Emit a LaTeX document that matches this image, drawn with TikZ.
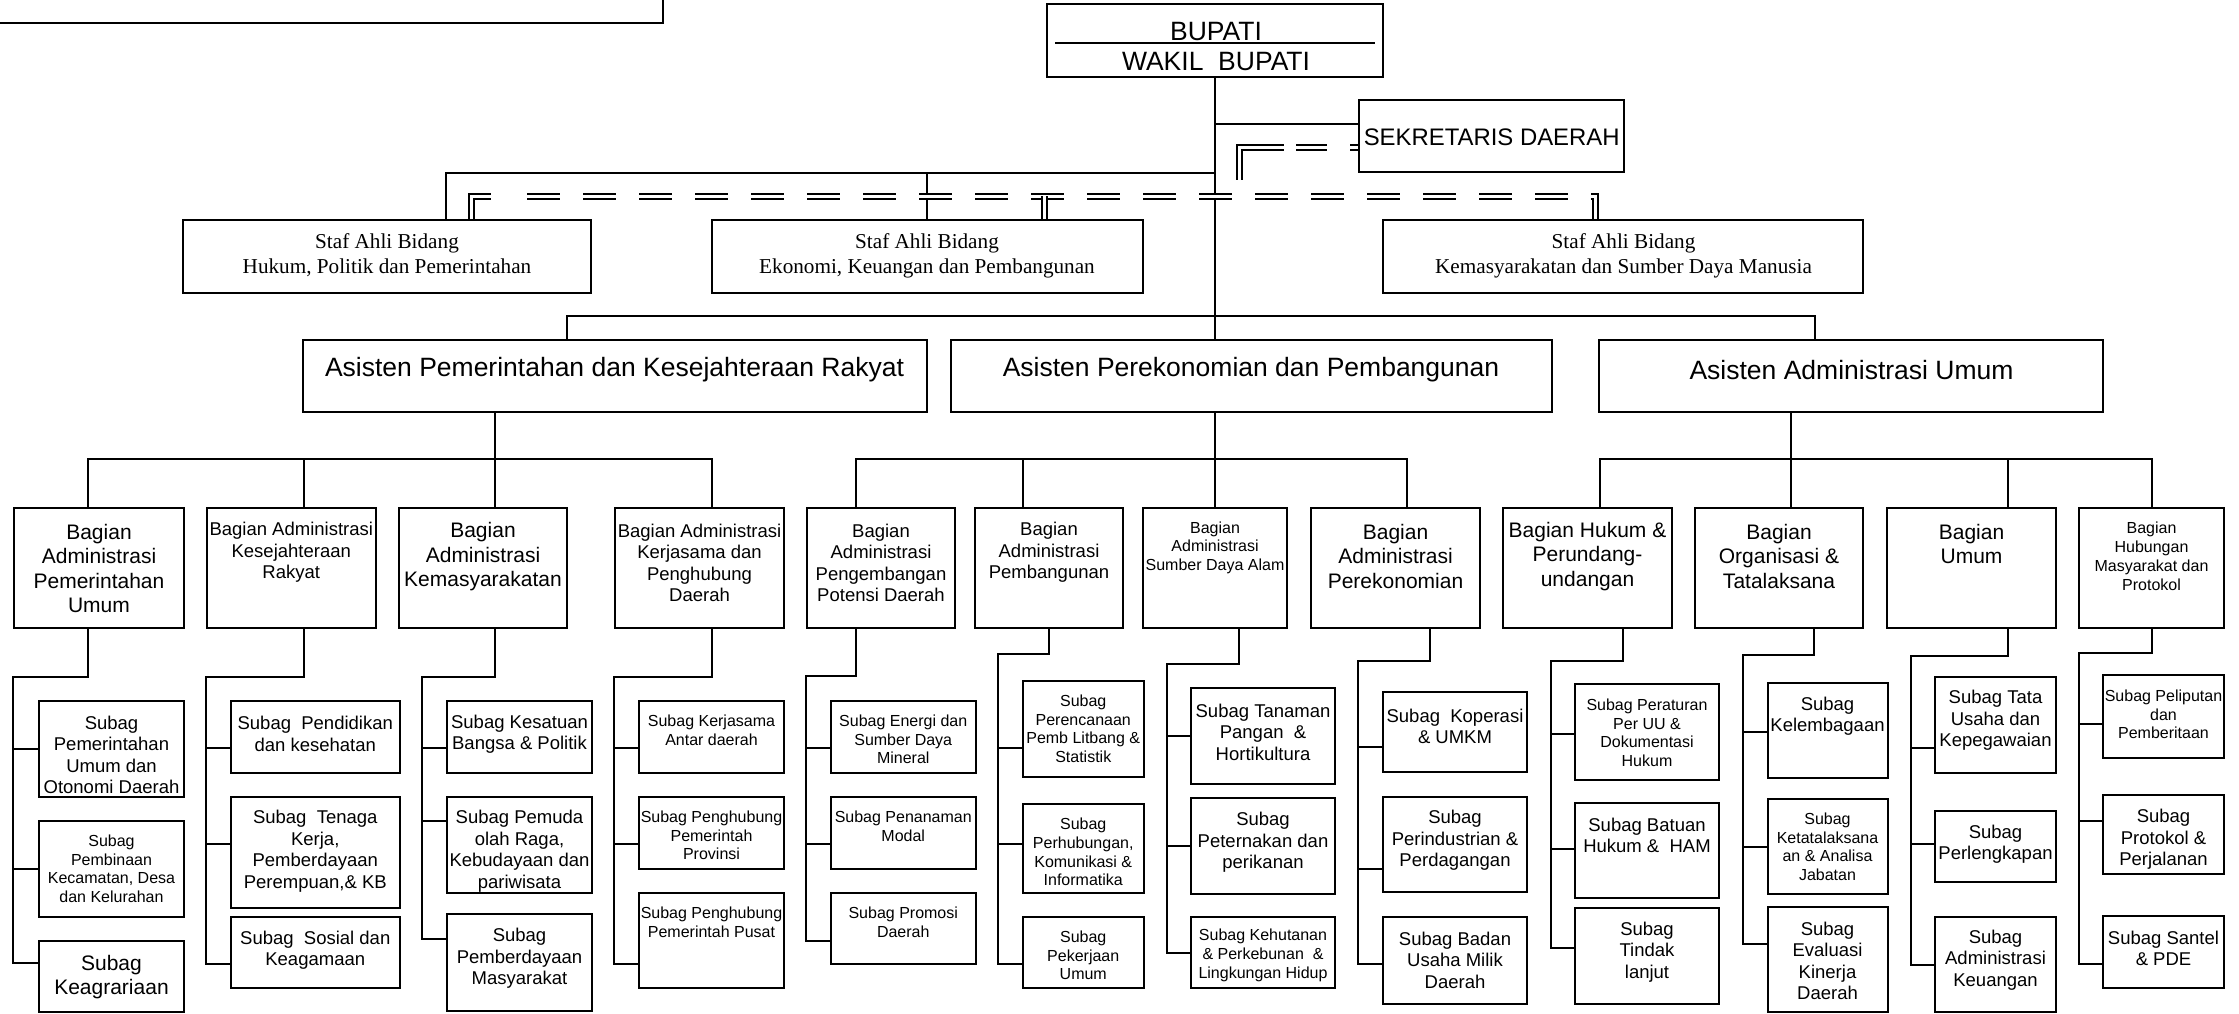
\documentclass[tikz,border=0pt]{standalone}
\usepackage{fontspec}
\setmainfont{Liberation Sans}
\newfontfamily\stafserif{Liberation Serif}
\tikzset{
  box/.style={draw, line width=2pt, inner sep=0pt},
  wire/.style={line width=2pt},
  dbl/.style={line width=2pt, double, double distance=3pt, dash pattern=on 33pt off 23pt},
  dblsolid/.style={line width=2pt, double, double distance=3pt},
  txt/.style={align=center, inner sep=0pt},
  fS/.style={txt, font=\fontsize{16}{18.7}\selectfont},
  fM/.style={txt, font=\fontsize{18.5}{21.5}\selectfont},
  fL/.style={txt, font=\fontsize{21}{24.5}\selectfont},
  fX/.style={txt, font=\fontsize{26.5}{30}\selectfont},
  fstaf/.style={txt, font=\stafserif\fontsize{21.2}{25}\selectfont}
}
\begin{document}
\begin{tikzpicture}[x=1pt, y=-1pt]
  \useasboundingbox (0,0) rectangle (2239,1014);
  % top
  \draw[wire] (0,23) -| (663,0);
  \node[box, minimum width=336pt, minimum height=73pt] (bupati) at (1215,40.5) {};
  \node[fX] (bupatit) at (1216,47) {BUPATI\\WAKIL\ \ BUPATI};
  \draw[wire] ([xshift=9pt,yshift=-3pt]bupati.west) -- ([xshift=-9pt,yshift=-3pt]bupati.east);
  \node[box, minimum width=265pt, minimum height=72pt] (sekda) at (1491.5,136) {};
  \node[txt, font=\fontsize{23.9}{28}\selectfont] (sekdat) at (1491.7,137) {SEKRETARIS DAERAH};
  % staf ahli
  \node[box, minimum width=408pt, minimum height=73pt] (staf1) at (387,256.5) {};
  \node[fstaf] (staf1t) at (387,255.5) {Staf Ahli Bidang\\Hukum, Politik dan Pemerintahan};
  \node[box, minimum width=431.5pt, minimum height=73pt] (staf2) at (927.25,256.5) {};
  \node[fstaf] (staf2t) at (927,255.5) {Staf Ahli Bidang\\Ekonomi, Keuangan dan Pembangunan};
  \node[box, minimum width=480pt, minimum height=73pt] (staf3) at (1623,256.5) {};
  \node[fstaf] (staf3t) at (1623.5,255.5) {Staf Ahli Bidang\\Kemasyarakatan dan Sumber Daya Manusia};
  % asisten
  \node[box, minimum width=624.5pt, minimum height=72pt] (as1) at (614.75,376) {};
  \node[fX] (as1t) at (614.5,370) {Asisten Pemerintahan dan Kesejahteraan Rakyat};
  \node[box, minimum width=601pt, minimum height=72pt] (as2) at (1251.5,376) {};
  \node[fX] (as2t) at (1251,370) {Asisten Perekonomian dan Pembangunan};
  \node[box, minimum width=504pt, minimum height=72pt] (as3) at (1851,376) {};
  \node[fX] (as3t) at (1851.5,370) {Asisten Administrasi Umum};
  % lines at the top
  \draw[wire] (bupati.south) -- (bupati.south |- as2.north);
  \coordinate (sk) at ([yshift=12pt]sekda.west);
  \draw[wire] (sk) -- (sk -| bupati.south);
  \coordinate (h1) at ([xshift=59pt]staf1.north);
  \draw[wire] (bupati.south |- sekda.south) -| (h1);
  \draw[wire] (staf2.north) -- (staf2.north |- sekda.south);
  \coordinate (q1) at ([xshift=84pt]staf1.north);
  \coordinate (q2) at ([xshift=117pt]staf2.north);
  \coordinate (q3) at ([xshift=-28pt]staf3.north);
  \draw[dblsolid] (q1) |- ++(20,-23);
  \draw[dbl] ([xshift=56pt,yshift=23pt]q1) -| (q3);
  \draw[dblsolid] (q2) -- ++(0,-23);
  \coordinate (sd) at ([yshift=-12pt]sekda.west);
  \draw[dbl, dash pattern=on 77pt off 12pt on 31pt off 23pt] ([xshift=-119pt,yshift=-32pt]sd) |- (sd);
  \coordinate (p1) at ([xshift=-48pt]as1.north);
  \coordinate (p3) at ([xshift=-36pt]as3.north);
  \draw[wire] (p1) -- ++(0,-23) -| (p3);
  % bagian
  \node[box, minimum width=170pt, minimum height=120pt] (b1) at (99,568) {};
  \node[fL] (b1t) at (99,568.5) {Bagian\\Administrasi\\Pemerintahan\\Umum};
  \node[box, minimum width=168.5pt, minimum height=120pt] (b2) at (291.25,568) {};
  \node[fM] (b2t) at (291.25,552.5) {Bagian Administrasi\\Kesejahteraan\\Rakyat};
  \node[box, minimum width=168pt, minimum height=120pt] (b3) at (483,568) {};
  \node[fL] (b3t) at (483,556.7) {Bagian\\Administrasi\\Kemasyarakatan};
  \node[box, minimum width=169pt, minimum height=120pt] (b4) at (699.5,568) {};
  \node[fM] (b4t) at (699.5,563) {Bagian Administrasi\\Kerjasama dan\\Penghubung\\Daerah};
  \node[box, minimum width=148pt, minimum height=120pt] (b5) at (881,568) {};
  \node[fM] (b5t) at (881,563) {Bagian\\Administrasi\\Pengembangan\\Potensi Daerah};
  \node[box, minimum width=148pt, minimum height=120pt] (b6) at (1049,568) {};
  \node[fM] (b6t) at (1049,552.5) {Bagian\\Administrasi\\Pembangunan};
  \node[box, minimum width=144pt, minimum height=120pt] (b7) at (1215,568) {};
  \node[fS] (b7t) at (1215,547.7) {Bagian\\Administrasi\\Sumber Daya Alam};
  \node[box, minimum width=169pt, minimum height=120pt] (b8) at (1395.5,568) {};
  \node[fL] (b8t) at (1395.5,556.3) {Bagian\\Administrasi\\Perekonomian};
  \node[box, minimum width=169pt, minimum height=120pt] (b9) at (1587.5,568) {};
  \node[fL] (b9t) at (1587.5,556.3) {Bagian Hukum \&\\Perundang-\\undangan};
  \node[box, minimum width=168pt, minimum height=120pt] (b10) at (1779,568) {};
  \node[fL] (b10t) at (1779,556.3) {Bagian\\Organisasi \&\\Tatalaksana};
  \node[box, minimum width=169pt, minimum height=120pt] (b11) at (1971.5,568) {};
  \node[fL] (b11t) at (1971.5,544) {Bagian\\Umum};
  \node[box, minimum width=145pt, minimum height=120pt] (b12) at (2151.5,568) {};
  \node[fS] (b12t) at (2151.5,556.3) {Bagian\\Hubungan\\Masyarakat dan\\Protokol};
  % lines to bagian
  \coordinate (d1) at ([xshift=-11pt]b1.north);
  \coordinate (d2) at ([xshift=13pt]b2.north);
  \coordinate (d3) at ([xshift=12pt]b3.north);
  \coordinate (d4) at ([xshift=12.5pt]b4.north);
  \draw[wire] (d1) -- ++(0,-48) -| (d4);
  \draw[wire] (d2) -- ++(0,-48);
  \draw[wire] (d3) -- (d3 |- as1.south);
  \coordinate (d5) at ([xshift=-25pt]b5.north);
  \coordinate (d6) at ([xshift=-26pt]b6.north);
  \coordinate (d8) at ([xshift=11.5pt]b8.north);
  \draw[wire] (d5) -- ++(0,-48) -| (d8);
  \draw[wire] (d6) -- ++(0,-48);
  \draw[wire] (b7.north) -- (b7.north |- as2.south);
  \coordinate (d9) at ([xshift=12.5pt]b9.north);
  \coordinate (d10) at ([xshift=12pt]b10.north);
  \coordinate (d11) at ([xshift=36.5pt]b11.north);
  \draw[wire] (d9) -- ++(0,-48) -| (b12.north);
  \draw[wire] (d11) -- ++(0,-48);
  \draw[wire] (d10) -- (d10 |- as3.south);
  % subag of b1
  \node[box, minimum width=145pt, minimum height=96pt] (s1a) at (111.5,749) {};
  \node[fM] (s1at) at (111.5,755) {Subag\\Pemerintahan\\Umum dan\\Otonomi Daerah};
  \node[box, minimum width=145pt, minimum height=96pt] (s1b) at (111.5,869) {};
  \node[fS] (s1bt) at (111.5,868.7) {Subag\\Pembinaan\\Kecamatan, Desa\\dan Kelurahan};
  \node[box, minimum width=145pt, minimum height=71pt] (s1c) at (111.5,976.5) {};
  \node[fL] (s1ct) at (111.5,977) {Subag\\Keagrariaan};
  \draw[wire] (d1 |- b1.south) -- ++(0,48) -| ([xshift=-25pt,yshift=13.5pt]s1c.west) -- ++(25,0);
  \draw[wire] (s1a.west) -- ++(-25,0);
  \draw[wire] (s1b.west) -- ++(-25,0);
  % subag of b2
  \node[box, minimum width=168.5pt, minimum height=72pt] (s2a) at (315.25,737) {};
  \node[fM] (s2at) at (315.25,734) {Subag\ \ Pendidikan\\dan kesehatan};
  \node[box, minimum width=168.5pt, minimum height=111pt] (s2b) at (315.25,852.5) {};
  \node[fM] (s2bt) at (315.25,851) {Subag\ \ Tenaga\\Kerja,\\Pemberdayaan\\Perempuan,\& KB};
  \node[box, minimum width=168.5pt, minimum height=71pt] (s2c) at (315.25,952.5) {};
  \node[fM] (s2ct) at (315.25,950) {Subag\ \ Sosial dan\\Keagamaan};
  \draw[wire] (d2 |- b2.south) -- ++(0,48) -| ([xshift=-24pt,yshift=-11.5pt]s2c.west) -- ++(24,0);
  \draw[wire] ([yshift=-11pt]s2a.west) -- ++(-24,0);
  \draw[wire] ([yshift=8.5pt]s2b.west) -- ++(-24,0);
  % subag of b3
  \node[box, minimum width=145pt, minimum height=72pt] (s3a) at (519.5,737) {};
  \node[fM] (s3at) at (519.5,734) {Subag Kesatuan\\Bangsa \& Politik};
  \node[box, minimum width=145pt, minimum height=96pt] (s3b) at (519.5,845) {};
  \node[fM] (s3bt) at (519.5,851) {Subag Pemuda\\olah Raga,\\Kebudayaan dan\\pariwisata};
  \node[box, minimum width=145pt, minimum height=97pt] (s3c) at (519.5,962.5) {};
  \node[fM] (s3ct) at (519.5,958.5) {Subag\\Pemberdayaan\\Masyarakat};
  \draw[wire] (d3 |- b3.south) -- ++(0,48) -| ([xshift=-24pt,yshift=23.5pt]s3c.west) -- ++(24,0);
  \draw[wire] ([yshift=-11pt]s3a.west) -- ++(-24,0);
  \draw[wire] ([yshift=24pt]s3b.west) -- ++(-24,0);
  % subag of b4
  \node[box, minimum width=145pt, minimum height=72pt] (s4a) at (711.5,737) {};
  \node[fS] (s4at) at (711.5,730) {Subag Kerjasama\\Antar daerah};
  \node[box, minimum width=145pt, minimum height=72pt] (s4b) at (711.5,833) {};
  \node[fS] (s4bt) at (711.5,835.3) {Subag Penghubung\\Pemerintah\\Provinsi};
  \node[box, minimum width=145pt, minimum height=95pt] (s4c) at (711.5,940.5) {};
  \node[fS] (s4ct) at (711.5,922) {Subag Penghubung\\Pemerintah Pusat};
  \draw[wire] (d4 |- b4.south) -- ++(0,48) -| ([xshift=-24pt,yshift=-23.5pt]s4c.west) -- ++(24,0);
  \draw[wire] ([yshift=-11pt]s4a.west) -- ++(-24,0);
  \draw[wire] ([yshift=-11pt]s4b.west) -- ++(-24,0);
  % subag of b5
  \node[box, minimum width=144.5pt, minimum height=72pt] (s5a) at (903.25,737) {};
  \node[fS] (s5at) at (903.25,739.3) {Subag Energi dan\\Sumber Daya\\Mineral};
  \node[box, minimum width=144.5pt, minimum height=72pt] (s5b) at (903.25,833) {};
  \node[fS] (s5bt) at (903.25,826) {Subag Penanaman\\Modal};
  \node[box, minimum width=144.5pt, minimum height=71pt] (s5c) at (903.25,928.5) {};
  \node[fS] (s5ct) at (903.25,922) {Subag Promosi\\Daerah};
  \draw[wire] (d5 |- b5.south) -- ++(0,47) -| ([xshift=-24pt,yshift=-12.5pt]s5c.west) -- ++(24,0);
  \draw[wire] ([yshift=-11pt]s5a.west) -- ++(-24,0);
  \draw[wire] ([yshift=-11pt]s5b.west) -- ++(-24,0);
  % subag of b6
  \node[box, minimum width=120.5pt, minimum height=96pt] (s6a) at (1083.25,729) {};
  \node[fS] (s6at) at (1083.25,728.7) {Subag\\Perencanaan\\Pemb Litbang \&\\Statistik};
  \node[box, minimum width=120.5pt, minimum height=89pt] (s6b) at (1083.25,848.5) {};
  \node[fS] (s6bt) at (1083.25,852.2) {Subag\\Perhubungan,\\Komunikasi \&\\Informatika};
  \node[box, minimum width=120.5pt, minimum height=71pt] (s6c) at (1083.25,952.5) {};
  \node[fS] (s6ct) at (1083.25,955.3) {Subag\\Pekerjaan\\Umum};
  \draw[wire] (b6.south) -- ++(0,25) -| ([xshift=-24pt,yshift=-11.5pt]s6c.west) -- ++(24,0);
  \draw[wire] ([yshift=-19pt]s6a.west) -- ++(-24,0);
  \draw[wire] ([yshift=4.5pt]s6b.west) -- ++(-24,0);
  % subag of b7
  \node[box, minimum width=144pt, minimum height=96pt] (s7a) at (1263,736) {};
  \node[fM] (s7at) at (1263,732) {Subag Tanaman\\Pangan\ \ \&\\Hortikultura};
  \node[box, minimum width=144pt, minimum height=96pt] (s7b) at (1263,846) {};
  \node[fM] (s7bt) at (1263,842.3) {Subag\\Peternakan dan\\perikanan};
  \node[box, minimum width=144pt, minimum height=71pt] (s7c) at (1263,952.5) {};
  \node[fS] (s7ct) at (1263,955.3) {Subag Kehutanan\\\& Perkebunan\ \ \&\\Lingkungan Hidup};
  \draw[wire] ([xshift=24pt]b7.south) -- ++(0,35) -| ([xshift=-23pt]s7c.west) -- ++(23,0);
  \draw[wire] (s7a.west) -- ++(-23,0);
  \draw[wire] (s7b.west) -- ++(-23,0);
  % subag of b8
  \node[box, minimum width=144pt, minimum height=80pt] (s8a) at (1455,732) {};
  \node[fM] (s8at) at (1455,726.5) {Subag\ \ Koperasi\\\& UMKM};
  \node[box, minimum width=144pt, minimum height=95pt] (s8b) at (1455,844.5) {};
  \node[fM] (s8bt) at (1455,840.7) {Subag\\Perindustrian \&\\Perdagangan};
  \node[box, minimum width=144pt, minimum height=87pt] (s8c) at (1455,960.5) {};
  \node[fM] (s8ct) at (1455,960) {Subag Badan\\Usaha Milik\\Daerah};
  \draw[wire] ([xshift=34pt]b8.south) -- ++(0,32) -| ([xshift=-24pt,yshift=-3.5pt]s8c.west) -- ++(24,0);
  \draw[wire] ([yshift=-15pt]s8a.west) -- ++(-24,0);
  \draw[wire] ([yshift=-24.5pt]s8b.west) -- ++(-24,0);
  % subag of b9
  \node[box, minimum width=144pt, minimum height=96pt] (s9a) at (1647,732) {};
  \node[fS] (s9at) at (1647,732.7) {Subag Peraturan\\Per UU \&\\Dokumentasi\\Hukum};
  \node[box, minimum width=144pt, minimum height=95pt] (s9b) at (1647,850.5) {};
  \node[fM] (s9bt) at (1647,835.5) {Subag Batuan\\Hukum \&\ \ HAM};
  \node[box, minimum width=144pt, minimum height=96pt] (s9c) at (1647,956) {};
  \node[fM] (s9ct) at (1647,952) {Subag\\Tindak\\lanjut};
  \draw[wire] ([xshift=35.5pt]b9.south) -- ++(0,32) -| ([xshift=-23.5pt,yshift=8pt]s9c.west) -- ++(23.5,0);
  \draw[wire] ([yshift=-2pt]s9a.west) -- ++(-23.5,0);
  \draw[wire] ([yshift=1.5pt]s9b.west) -- ++(-23.5,0);
  % subag of b10
  \node[box, minimum width=120pt, minimum height=95pt] (s10a) at (1827.5,730.5) {};
  \node[fM] (s10at) at (1827.5,716) {Subag\\Kelembagaan};
  \node[box, minimum width=120pt, minimum height=95pt] (s10b) at (1827.5,846.5) {};
  \node[fS] (s10bt) at (1827.5,846.7) {Subag\\Ketatalaksana\\an \& Analisa\\Jabatan};
  \node[box, minimum width=120pt, minimum height=105pt] (s10c) at (1827.5,959.5) {};
  \node[fM] (s10ct) at (1827.5,961) {Subag\\Evaluasi\\Kinerja\\Daerah};
  \draw[wire] ([xshift=35pt]b10.south) -- ++(0,26) -| ([xshift=-23.5pt,yshift=15.5pt]s10c.west) -- ++(23.5,0);
  \draw[wire] ([yshift=-1.5pt]s10a.west) -- ++(-23.5,0);
  \draw[wire] (s10b.west) -- ++(-23.5,0);
  % subag of b11
  \node[box, minimum width=121pt, minimum height=96pt] (s11a) at (1995.5,725) {};
  \node[fM] (s11at) at (1995.5,720.3) {Subag Tata\\Usaha dan\\Kepegawaian};
  \node[box, minimum width=121pt, minimum height=71pt] (s11b) at (1995.5,846.5) {};
  \node[fM] (s11bt) at (1995.5,844) {Subag\\Perlengkapan};
  \node[box, minimum width=121pt, minimum height=95pt] (s11c) at (1995.5,964.5) {};
  \node[fM] (s11ct) at (1995.5,960) {Subag\\Administrasi\\Keuangan};
  \draw[wire] (d11 |- b11.south) -- ++(0,27) -| ([xshift=-23pt]s11c.west) -- ++(23,0);
  \draw[wire] ([yshift=-23pt]s11a.west) -- ++(-23,0);
  \draw[wire] ([yshift=2.5pt]s11b.west) -- ++(-23,0);
  % subag of b12
  \node[box, minimum width=121pt, minimum height=83pt] (s12a) at (2163.5,716.5) {};
  \node[fS] (s12at) at (2163.5,714.3) {Subag Peliputan\\dan\\Pemberitaan};
  \node[box, minimum width=121pt, minimum height=79pt] (s12b) at (2163.5,834.5) {};
  \node[fM] (s12bt) at (2163.5,839.3) {Subag\\Protokol \&\\Perjalanan};
  \node[box, minimum width=121pt, minimum height=72pt] (s12c) at (2163.5,952) {};
  \node[fM] (s12ct) at (2163.5,948.5) {Subag Santel\\\& PDE};
  \draw[wire] (b12.south) -- ++(0,24) -| ([xshift=-23pt,yshift=-12pt]s12c.west) -- ++(23,0);
  \draw[wire] ([yshift=-7.5pt]s12a.west) -- ++(-23,0);
  \draw[wire] ([yshift=13.5pt]s12b.west) -- ++(-23,0);
\end{tikzpicture}
\end{document}
